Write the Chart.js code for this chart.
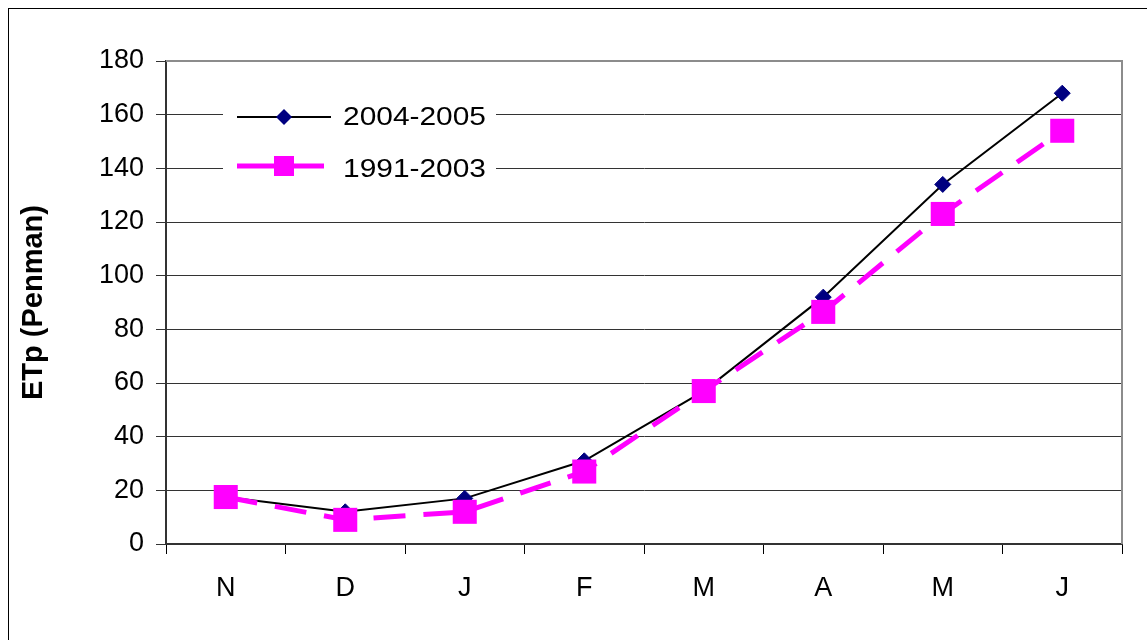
<!DOCTYPE html>
<html>
<head>
<meta charset="utf-8">
<script src="https://cdn.jsdelivr.net/npm/chart.js@4"></script>
<style>
html,body{margin:0;padding:0;background:#fff;}
#wrap{width:1147px;height:640px;position:relative;}
</style>
</head>
<body>
<div id="wrap"><canvas id="c" width="1147" height="640"></canvas></div>
<script>
const categories = ['N', 'D', 'J', 'F', 'M', 'A', 'M', 'J'];
const series2004 = [17.5, 12, 17, 31, 57, 92, 134, 168];
const series1991 = [17.5, 9, 12, 27, 57, 86.5, 123, 154];
const yTicks = [0, 20, 40, 60, 80, 100, 120, 140, 160, 180];
const seriesNames = ['2004-2005', '1991-2003'];
const yTitle = 'ETp (Penman)';

const FONT = "'Liberation Sans', Arial, sans-serif";

const framePlugin = {
  id: 'frame',
  beforeDraw(chart) {
    const ctx = chart.ctx;
    ctx.save();
    ctx.fillStyle = '#fff';
    ctx.fillRect(0, 0, chart.width, chart.height);
    ctx.strokeStyle = '#000';
    ctx.lineWidth = 1;
    ctx.strokeRect(8.5, 8.5, chart.width + 10, chart.height + 10);
    ctx.restore();
  },
  beforeDatasetsDraw(chart) {
    const a = chart.chartArea;
    const ctx = chart.ctx;
    ctx.save();
    ctx.strokeStyle = '#8c8c8c';
    ctx.lineWidth = 2;
    ctx.beginPath();
    ctx.moveTo(a.left, a.top);
    ctx.lineTo(a.right, a.top);
    ctx.lineTo(a.right, a.bottom);
    ctx.stroke();
    // legend box
    ctx.fillStyle = '#fff';
    ctx.fillRect(223, 95, 273, 90);
    const ds = chart.data.datasets;
    // series 1
    ctx.strokeStyle = '#000';
    ctx.lineWidth = 2;
    ctx.beginPath();
    ctx.moveTo(237, 117); ctx.lineTo(331, 117);
    ctx.stroke();
    ctx.fillStyle = '#000080';
    ctx.beginPath();
    ctx.moveTo(284, 109); ctx.lineTo(292, 117); ctx.lineTo(284, 125); ctx.lineTo(276, 117); ctx.closePath();
    ctx.fill();
    // series 2
    ctx.strokeStyle = '#ff00ff';
    ctx.lineWidth = 5;
    ctx.beginPath();
    ctx.moveTo(237, 166); ctx.lineTo(274, 166);
    ctx.moveTo(294, 166); ctx.lineTo(324, 166);
    ctx.stroke();
    ctx.fillStyle = '#ff00ff';
    ctx.fillRect(274, 156, 20, 20);
    ctx.fillStyle = '#000';
    ctx.font = '26px ' + FONT;
    ctx.textBaseline = 'alphabetic';
    ctx.textAlign = 'left';
    ctx.save();
    ctx.translate(343, 0);
    ctx.scale(1.15, 1);
    ctx.fillText(ds[0].label, 0, 124.5);
    ctx.fillText(ds[1].label, 0, 177);
    ctx.restore();
    ctx.restore();
  }
};

new Chart(document.getElementById('c'), {
  type: 'line',
  data: {
    labels: categories,
    datasets: [
      {
        label: seriesNames[0],
        data: series2004,
        borderColor: '#000',
        borderWidth: 2,
        pointStyle: 'rectRot',
        pointRadius: 8,
        pointBackgroundColor: '#000080',
        pointBorderColor: '#000080',
        pointBorderWidth: 1,
        tension: 0,
        order: 1
      },
      {
        label: seriesNames[1],
        data: series1991,
        borderColor: '#ff00ff',
        borderWidth: 5,
        borderDash: [32, 18],
        pointStyle: 'rect',
        pointRadius: 17,
        pointBackgroundColor: '#ff00ff',
        pointBorderColor: '#ff00ff',
        pointBorderWidth: 0,
        tension: 0,
        order: 0
      }
    ]
  },
  options: {
    responsive: false,
    animation: false,
    devicePixelRatio: 1,
    layout: { padding: { left: 10, top: 61, right: 25, bottom: 0 } },
    plugins: { legend: { display: false }, tooltip: { enabled: false } },
    scales: {
      x: {
        type: 'category',
        offset: true,
        grid: { display: true, drawOnChartArea: false, drawTicks: true, tickLength: 10, color: '#000', offset: true },
        border: { display: true, color: '#333', width: 2 },
        ticks: { color: '#000', font: { family: FONT, size: 27 }, padding: 18, maxRotation: 0 },
        afterFit(s) { s.height = 96; }
      },
      y: {
        min: 0, max: 180,
        afterBuildTicks(s) { s.ticks = yTicks.map(v => ({ value: v })); },
        grid: { color: '#333', lineWidth: 1, drawTicks: true, tickLength: 10 },
        border: { display: true, color: '#333', width: 2 },
        ticks: { color: '#000', font: { family: FONT, size: 27 }, padding: 12 },
        title: { display: true, text: yTitle, color: '#000', font: { family: FONT, size: 29, weight: 'bold' }, padding: { top: 7, bottom: 0 } },
        afterFit(s) { s.width = 156; }
      }
    }
  },
  plugins: [framePlugin]
});
</script>
</body>
</html>
